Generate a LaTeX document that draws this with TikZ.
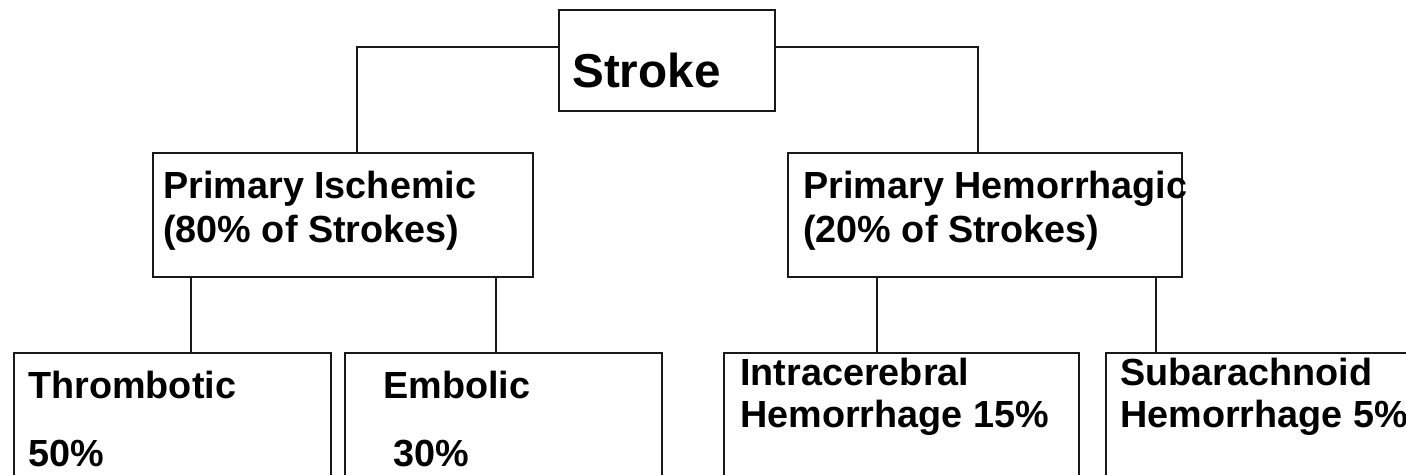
\documentclass[tikz,border=0pt]{standalone}
\usepackage{fontspec}
\setmainfont{Liberation Sans}
\usepackage{tikz}
\usetikzlibrary{calc}
\definecolor{outline}{RGB}{25, 25, 25}
\tikzset{
    box/.style={rectangle, draw=outline, line width=1pt, anchor=north west, inner sep=0pt},
    boxtext/.style={anchor=north west, inner sep=0pt, align=left, font=\bfseries\fontsize{21.5}{25}\selectfont},
    titletext/.style={anchor=north west, inner sep=0pt, font=\bfseries\fontsize{27.1}{32}\selectfont},
    link/.style={draw=outline, line width=0.8pt}
}

\begin{document}
\begin{tikzpicture}[x=0.02cm, y=-0.02cm]
        \useasboundingbox (0,0) rectangle (1406,474);

        % Top box
        \node[box, minimum width=4.32cm, minimum height=2.02cm] (stroke) at (558,9) {};
        \node[titletext] (strokeT) at (572,53) {Stroke};

        % Second level
        \node[box, minimum width=7.6cm, minimum height=2.48cm] (isch) at (152,152) {};
        \node[boxtext] (ischT) at (163,171) {Primary Ischemic\\(80\% of Strokes)};
        \node[box, minimum width=7.88cm, minimum height=2.48cm] (hemo) at (787,152) {};
        \node[boxtext] (hemoT) at (803,171) {Primary Hemorrhagic\\(20\% of Strokes)};

        % Third level
        \node[box, minimum width=6.34cm, minimum height=4cm] (throm) at (13,352) {};
        \node[boxtext] (thromT) at (28,371) {Thrombotic\\[0.48cm]50\%};
        \node[box, minimum width=6.34cm, minimum height=4cm] (embol) at (344,352) {};
        \node[boxtext] (embolT) at (383,371) {Embolic\\[0.48cm]\hspace*{0.2cm}30\%};
        \node[box, minimum width=7.1cm, minimum height=4cm] (intra) at (723,352) {};
        \node[boxtext, font=\bfseries\fontsize{21.5}{23.8}\selectfont] (intraT) at (740,358) {Intracerebral\\Hemorrhage 15\%};
        \node[box, minimum width=8cm, minimum height=4cm] (subar) at (1105,352) {};
        \node[boxtext, font=\bfseries\fontsize{21.5}{23.8}\selectfont] (subarT) at (1120,358) {Subarachnoid\\Hemorrhage 5\%};

        % Connectors from the top
        \coordinate (ischIn) at ($(isch.north west)+(205,0)$);
        \coordinate (hemoIn) at ($(hemo.north west)+(191,0)$);
        \draw[link] ($(stroke.north west)+(0,38)$) -| (ischIn);
        \draw[link] ($(stroke.north east)+(0,38)$) -| (hemoIn);

        % Connectors to the subtypes
        \draw[link] ($(isch.south west)+(39,0)$) -- ($(throm.north west)+(178,0)$);
        \draw[link] ($(isch.south west)+(344,0)$) -- ($(embol.north west)+(152,0)$);
        \draw[link] ($(hemo.south west)+(90,0)$) -- ($(intra.north west)+(154,0)$);
        \draw[link] ($(hemo.south west)+(369,0)$) -- ($(subar.north west)+(51,0)$);
    \end{tikzpicture}
\end{document}
